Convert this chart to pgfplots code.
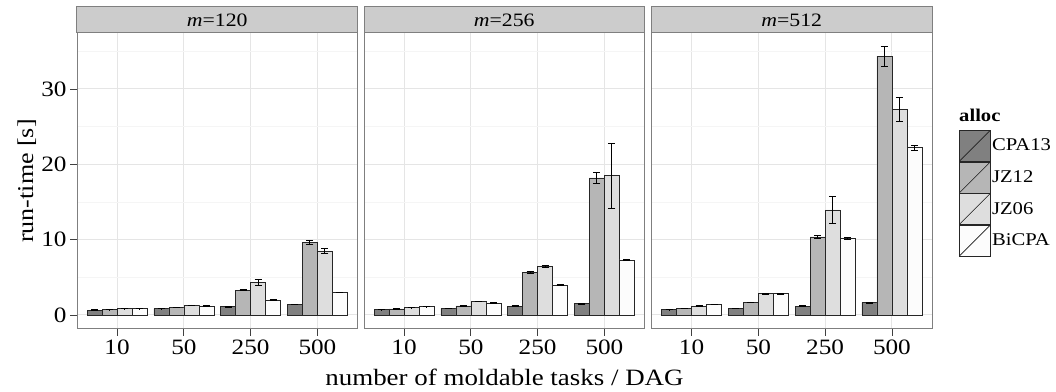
\documentclass[border=0pt]{standalone}
\usepackage{fontspec}
\setmainfont{Liberation Serif}[FakeStretch=1.15]
\usepackage{pgfplots}
\usepackage{pgfplotstable}
\pgfplotsset{compat=1.18}

\definecolor{cA}{HTML}{808080}
\definecolor{cB}{HTML}{B6B6B6}
\definecolor{cC}{HTML}{DEDEDE}
\definecolor{cD}{HTML}{FCFCFC}
\definecolor{gridc}{HTML}{E5E5E5}
\definecolor{minorc}{HTML}{F5F5F5}
\definecolor{borderc}{HTML}{7F7F7F}
\definecolor{stripc}{HTML}{CCCCCC}

% x: 1=10, 2=50, 3=250, 4=500 ; a=CPA13, b=JZ12, c=JZ06, d=BiCPA
\pgfplotstableread{
x a ae b be c ce d de
1 0.65 0.03 0.70 0.03 0.85 0.03 0.85 0.03
2 0.85 0.03 1.00 0.03 1.30 0.03 1.20 0.03
3 1.10 0.05 3.30 0.08 4.30 0.40 2.00 0.05
4 1.40 0.05 9.65 0.30 8.50 0.35 3.00 0.05
}\tA
\pgfplotstableread{
x a ae b be c ce d de
1 0.70 0.03 0.80 0.03 0.97 0.03 1.10 0.03
2 0.88 0.03 1.20 0.05 1.80 0.05 1.60 0.05
3 1.15 0.05 5.65 0.10 6.40 0.15 3.97 0.05
4 1.50 0.05 18.20 0.70 18.50 4.30 7.30 0.10
}\tB
\pgfplotstableread{
x a ae b be c ce d de
1 0.70 0.03 0.88 0.03 1.20 0.03 1.41 0.03
2 0.88 0.03 1.68 0.05 2.83 0.05 2.83 0.05
3 1.19 0.05 10.37 0.20 13.95 1.80 10.15 0.12
4 1.63 0.05 34.35 1.30 27.24 1.60 22.20 0.30
}\tC

\pgfplotsset{
  panel/.style={
    scale only axis, width=280.5bp, height=296bp,
    xmin=0.4, xmax=4.6, ymin=-1.86, ymax=37.43,
    xtick={1,2,3,4}, xticklabels={10,50,250,500},
    ytick={0,10,20,30}, yticklabels={0,10,20,30},
    minor ytick={5,15,25,35},
    grid=both,
    major grid style={gridc, line width=1bp},
    minor grid style={minorc, line width=0.8bp},
    tick align=outside, major tick length=7bp, minor tick length=0pt,
    tick style={black!75, line width=0.8bp},
    xtick pos=bottom, ytick pos=left,
    axis line style={borderc, line width=1bp},
    ticklabel style={font=\fontsize{22}{24}\selectfont},
    ybar, bar width=0.225,
    title style={at={(rel axis cs:0.5,1)}, anchor=south, yshift=-6pt, draw=borderc, fill=stripc,
      line width=1bp, minimum width=280.5bp, minimum height=26bp, inner sep=0pt,
      outer sep=0pt, font=\fontsize{19}{20}\selectfont},
    legend image code/.code={
      \draw[#1] (0bp,-15.5bp) rectangle (31bp,15.5bp);
      \draw[black!85, line width=0.6bp] (0bp,-15.5bp) -- (31bp,15.5bp);
    },
  },
  barA/.style={fill=cA, draw=black!85, line width=0.6bp, bar shift=-0.3375},
  barB/.style={fill=cB, draw=black!85, line width=0.6bp, bar shift=-0.1125},
  barC/.style={fill=cC, draw=black!85, line width=0.6bp, bar shift=0.1125},
  barD/.style={fill=cD, draw=black!85, line width=0.6bp, bar shift=0.3375},
  eb/.style={error bars/.cd, y dir=both, y explicit,
    error bar style={black, line width=0.9bp},
    error mark options={rotate=90, black, mark size=3.5bp, line width=0.9bp}},
}

\begin{document}
\begin{tikzpicture}
\useasboundingbox (0,0) rectangle (1056bp,392bp);

\begin{axis}[panel, at={(77bp,63bp)}, anchor=south west, title={\textit{m}=120}]
\addplot[barA, eb] table[x=x, y=a, y error=ae] {\tA};
\addplot[barB, eb] table[x=x, y=b, y error=be] {\tA};
\addplot[barC, eb] table[x=x, y=c, y error=ce] {\tA};
\addplot[barD, eb] table[x=x, y=d, y error=de] {\tA};
\end{axis}

\begin{axis}[panel, at={(364bp,63bp)}, anchor=south west, title={\textit{m}=256},
  yticklabels={}, y tick style={draw=none}]
\addplot[barA, eb] table[x=x, y=a, y error=ae] {\tB};
\addplot[barB, eb] table[x=x, y=b, y error=be] {\tB};
\addplot[barC, eb] table[x=x, y=c, y error=ce] {\tB};
\addplot[barD, eb] table[x=x, y=d, y error=de] {\tB};
\end{axis}

\begin{axis}[panel, at={(651.5bp,63bp)}, anchor=south west, title={\textit{m}=512},
  yticklabels={}, y tick style={draw=none},
  legend style={at={(rel axis cs:1.0963,0.6723)}, anchor=north west, draw=none, fill=none,
    inner sep=0pt, outer sep=0pt, row sep=0pt,
    font=\fontsize{18}{19}\selectfont, nodes={inner sep=1.5bp},
    /tikz/every even column/.append style={column sep=0bp}},
  legend cell align=left]
\addplot[barA, eb] table[x=x, y=a, y error=ae] {\tC};
\addplot[barB, eb] table[x=x, y=b, y error=be] {\tC};
\addplot[barC, eb] table[x=x, y=c, y error=ce] {\tC};
\addplot[barD, eb] table[x=x, y=d, y error=de] {\tC};
\legend{CPA13,JZ12,JZ06,BiCPA}
\end{axis}

\node[anchor=west, font=\fontsize{18}{19}\selectfont\bfseries, inner sep=0pt] at (959bp,277bp) {alloc};
\node[anchor=base, font=\fontsize{23.5}{25}\selectfont, inner sep=0pt] at (504.5bp,7bp) {number of moldable tasks / DAG};
\node[anchor=base, rotate=90, font=\fontsize{22.7}{24}\selectfont, inner sep=0pt] at (33bp,211bp) {run-time [s]};
\end{tikzpicture}
\end{document}
